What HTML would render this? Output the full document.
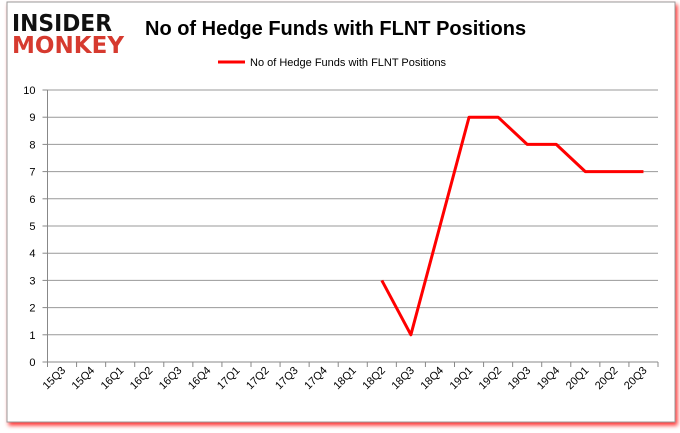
<!DOCTYPE html>
<html><head><meta charset="utf-8"><style>
body{margin:0;background:#fff;}
svg{display:block;font-family:"Liberation Sans",sans-serif;}
</style></head><body>
<svg width="680" height="433">
<defs><filter id="sh" x="-5%" y="-5%" width="110%" height="110%"><feDropShadow dx="2" dy="3" stdDeviation="2" flood-color="#f00" flood-opacity="0.8"/></filter></defs>
<rect x="7" y="2" width="668" height="420" fill="#fff" stroke="#999" stroke-width="1" filter="url(#sh)"/>
<g font-weight="bold" font-family="'DejaVu Sans',sans-serif">
<text x="12" y="31" font-size="23" fill="#111" textLength="100" lengthAdjust="spacingAndGlyphs">INSIDER</text>
<text x="12" y="53" font-size="23" fill="#d63a2f" textLength="112" lengthAdjust="spacingAndGlyphs">MONKEY</text>
</g>
<text x="145" y="35" font-size="20" font-weight="bold" fill="#000">No of Hedge Funds with FLNT Positions</text>
<line x1="218" y1="62" x2="245" y2="62" stroke="#f00" stroke-width="3"/>
<text x="250" y="66" font-size="11" fill="#000">No of Hedge Funds with FLNT Positions</text>
<g id="grid"></g><g id="axes"></g><g id="series"></g>
</svg>
<script>
const categories=["15Q3","15Q4","16Q1","16Q2","16Q3","16Q4","17Q1","17Q2","17Q3","17Q4","18Q1","18Q2","18Q3","18Q4","19Q1","19Q2","19Q3","19Q4","20Q1","20Q2","20Q3"];
const values=[null,null,null,null,null,null,null,null,null,null,null,3,1,5,9,9,8,8,7,7,7];
const yTicks=[0,1,2,3,4,5,6,7,8,9,10];
const L=47.5,R=658,T=90,B=362,yMax=10;
const NS="http://www.w3.org/2000/svg";
const bw=(R-L)/categories.length;
function x(i){return L+bw*(i+0.5);}
function y(v){return B-(v/yMax)*(B-T);}
function mk(tag,attrs,parent){const e=document.createElementNS(NS,tag);for(const k in attrs)e.setAttribute(k,attrs[k]);document.getElementById(parent).appendChild(e);return e;}
yTicks.forEach(v=>{
  const g=mk("line",{x1:L,x2:R,y1:y(v),y2:y(v),stroke:v===0?"#888":"#999","stroke-width":1},"grid");
  
  
  const tk=mk("line",{x1:L-5,x2:L,y1:y(v),y2:y(v),stroke:"#888"},"axes");
  
  
  const t=mk("text",{x:L-12,y:y(v)+4,"font-size":11,"text-anchor":"end",fill:"#000"},"axes");
  t.textContent=v;
  
  
});
const ax=mk("line",{x1:L,x2:L,y1:T,y2:B,stroke:"#888"},"axes");


for(let i=0;i<=categories.length;i++){
  const tk=mk("line",{x1:L+bw*i,x2:L+bw*i,y1:B,y2:B+5,stroke:"#888"},"axes");
  
  
}
categories.forEach((c,i)=>{
  const cx=x(i)+4,cy=B+9;
  const t=mk("text",{x:cx,y:cy,"font-size":11,"text-anchor":"end",fill:"#000",transform:`rotate(-45 ${cx} ${cy})`},"axes");
  t.textContent=c;
  
  
});
let d="";
values.forEach((v,i)=>{if(v===null)return;d+=(d?"L":"M")+x(i)+","+y(v);});
const p=mk("path",{d:d,fill:"none",stroke:"#f00","stroke-width":3,"stroke-linejoin":"round"},"series");


</script>
</body></html>
